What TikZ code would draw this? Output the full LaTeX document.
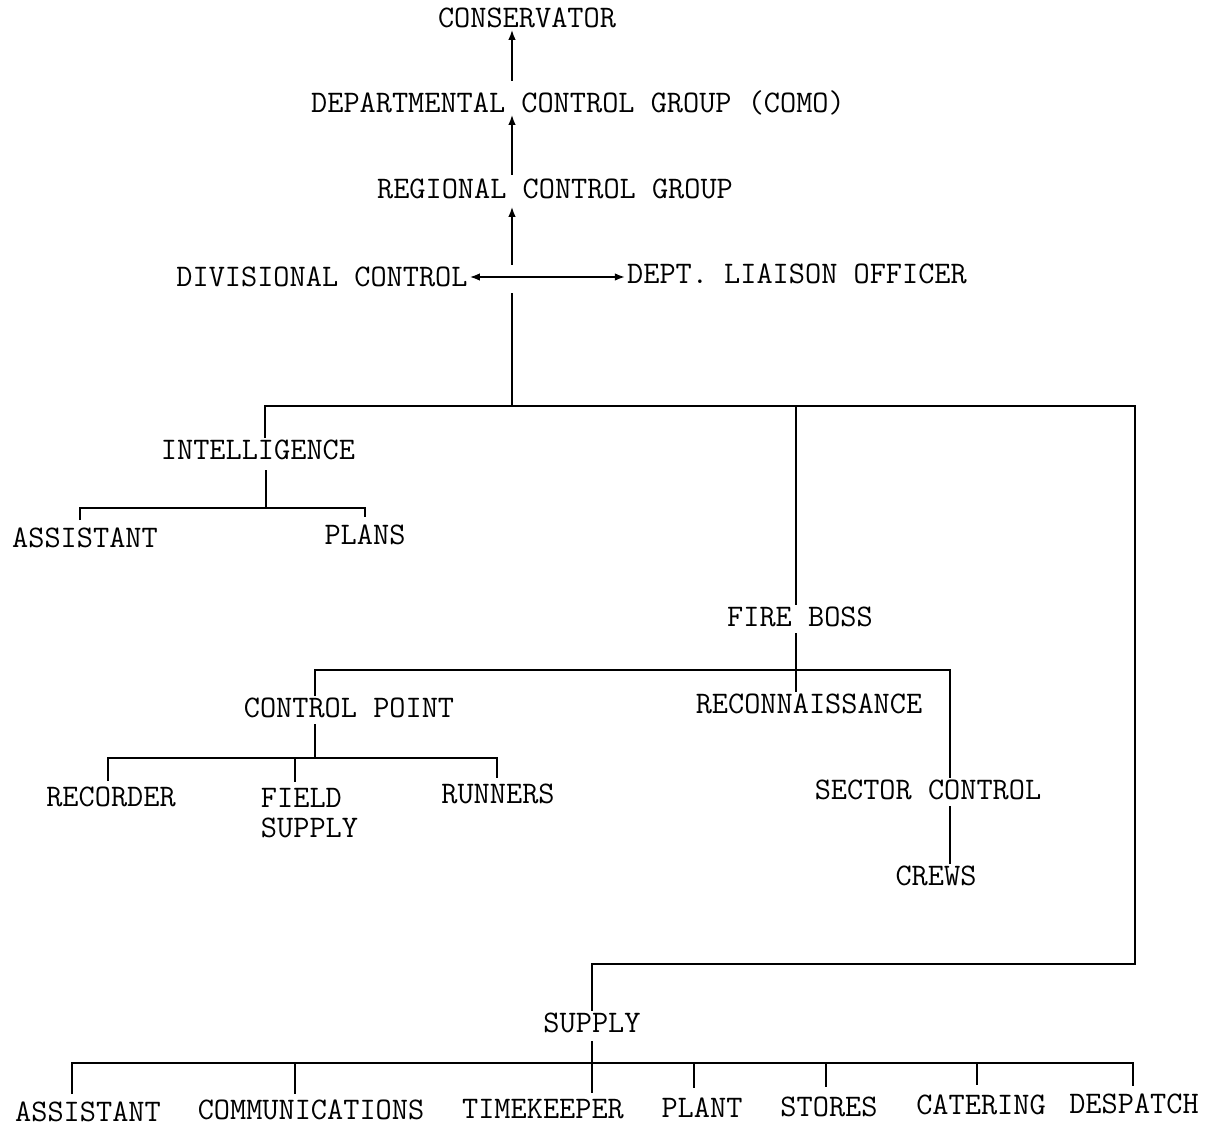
\documentclass[tikz,border=0pt]{standalone}
\usepackage{fontspec}
\usetikzlibrary{arrows.meta}
\begin{document}
\begin{tikzpicture}[x=0.5pt,y=-0.5pt,
  tbox/.style={inner sep=1pt,font=\fontsize{15.7pt}{14pt}\selectfont\ttfamily},
  lab/.style={tbox,text height=9.6pt,text depth=0pt},
  conn/.style={line width=0.75pt,line join=miter},
  arr/.style={conn,-{Latex[length=5pt,width=3.8pt]}},
  darr/.style={conn,{Latex[length=5pt,width=3.8pt]}-{Latex[length=5pt,width=3.8pt]}}]
\fill[white] (0,0) rectangle (1217,1129);
\useasboundingbox (0,0) rectangle (1217,1129);
% nodes
\node[lab] (cons) at (527,18) {CONSERVATOR};
\node[lab] (dcg) at (578,103) {DEPARTMENTAL CONTROL GROUP (COMO)};
\node[lab] (rcg) at (555,189) {REGIONAL CONTROL GROUP};
\node[lab] (div) at (322,277) {DIVISIONAL CONTROL};
\node[lab] (dlo) at (797,274) {DEPT. LIAISON OFFICER};
\node[lab] (int) at (258,450) {INTELLIGENCE};
\node[lab] (ias) at (85,538) {ASSISTANT};
\node[lab] (plans) at (365,535) {PLANS};
\node[lab] (fb) at (800,617) {FIRE BOSS};
\node[lab] (cp) at (349,708) {CONTROL POINT};
\node[lab] (rec) at (809,704) {RECONNAISSANCE};
\node[lab] (sc) at (928,790) {SECTOR CONTROL};
\node[lab] (crews) at (936,876) {CREWS};
\node[lab] (recd) at (111,797) {RECORDER};
\node[tbox,font=\fontsize{15.7pt}{15pt}\selectfont\ttfamily,align=left,anchor=north] (fs) at (309.5,786) {FIELD\\SUPPLY};
\node[lab] (run) at (498,794) {RUNNERS};
\node[lab] (sup) at (592,1023) {SUPPLY};
\node[lab] (sas) at (88,1112) {ASSISTANT};
\node[lab] (com) at (311,1110) {COMMUNICATIONS};
\node[lab] (tk) at (543,1109) {TIMEKEEPER};
\node[lab] (plant) at (702,1108) {PLANT};
\node[lab] (stores) at (829,1107) {STORES};
\node[lab] (cat) at (981,1105) {CATERING};
\node[lab] (desp) at (1134,1104) {DESPATCH};
% junction coordinates
\coordinate (tx) at (512,0);
\coordinate (bL) at (265,406);
\coordinate (bR) at (1135,406);
\coordinate (fbx) at (796,406);
\coordinate (s1) at (1135,964);
\coordinate (s2) at (592,964);
\coordinate (ix) at (266,508);
\coordinate (iaL) at (80,508);
\coordinate (iaR) at (365,508);
\coordinate (cL) at (315,670);
\coordinate (cR) at (950,670);
\coordinate (cpj) at (315,758);
\coordinate (rL) at (108,758);
\coordinate (rM) at (295,758);
\coordinate (rR) at (497,758);
\coordinate (sj) at (592,1063);
\coordinate (aL) at (72,1063);
\coordinate (aC) at (295,1063);
\coordinate (aP) at (694,1063);
\coordinate (aS) at (826,1063);
\coordinate (aK) at (977,1063);
\coordinate (aR) at (1133,1063);
% upper chain
\draw[arr,shorten <=5pt] (tx |- dcg.north) -- (tx |- cons.south);
\draw[arr,shorten <=1pt] (tx |- rcg.north) -- (tx |- dcg.south);
\draw[arr,shorten >=3pt] (tx |- div.north) -- (tx |- rcg.south);
\draw[darr] (div.east) -- (div.east -| dlo.west);
\draw[conn,shorten <=2pt] (tx |- div.south) -- (tx |- bL);
% main bar and branches
\draw[conn] (int.north -| bL) -- (bL) -- (bR) -- (s1) -- (s2) -- (s2 |- sup.north);
\draw[conn] (fbx) -- (fbx |- fb.north);
% intelligence
\draw[conn,shorten <=4pt] (int.south -| ix) -- (ix);
\draw[conn,shorten <=3pt,shorten >=3pt] (ias.north -| iaL) -- (iaL) -- (iaR) -- (plans.north -| iaR);
% fire boss
\draw[conn,shorten <=2pt] (fb.south -| fbx) -- (rec.north -| fbx);
\draw[conn] (cp.north -| cL) -- (cL) -- (cR) -- (cR |- sc.north);
\draw[conn,shorten <=2pt] (cR |- sc.south) -- (cR |- crews.north);
% control point
\draw[conn,shorten <=2pt] (cp.south -| cpj) -- (cpj);
\draw[conn,shorten <=2pt,shorten >=2pt] (recd.north -| rL) -- (rL) -- (rR) -- (run.north -| rR);
\draw[conn,shorten >=2pt] (rM) -- (rM |- fs.north);
% supply
\draw[conn,shorten <=3pt,shorten >=2pt] (sup.south -| sj) -- (sj |- tk.north);
\draw[conn,shorten <=3pt,shorten >=3pt] (sas.north -| aL) -- (aL) -- (aR) -- (desp.north -| aR);
\draw[conn,shorten >=2pt] (aC) -- (aC |- com.north);
\draw[conn,shorten >=4pt] (aP) -- (aP |- plant.north);
\draw[conn,shorten >=4pt] (aS) -- (aS |- stores.north);
\draw[conn,shorten >=4pt] (aK) -- (aK |- cat.north);
\end{tikzpicture}
\end{document}
